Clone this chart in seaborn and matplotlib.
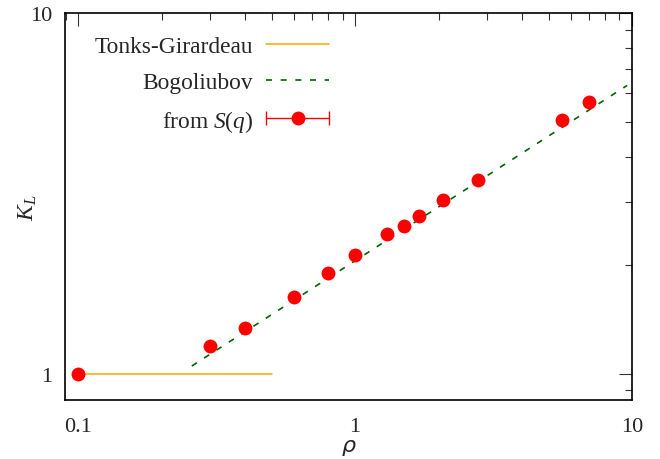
import numpy as np
import pandas as pd
import seaborn as sns
import matplotlib
matplotlib.use("Agg")
import matplotlib.pyplot as plt
from matplotlib.lines import Line2D
from matplotlib.legend_handler import HandlerLine2D, HandlerTuple
from matplotlib.ticker import LogLocator, NullFormatter

# ---- data ----
rho_sq = [0.1, 0.3, 0.4, 0.6, 0.8, 1.0, 1.3, 1.5, 1.7, 2.07, 2.78, 5.59, 7.0]
K_sq = [1.0, 1.196, 1.345, 1.634, 1.905, 2.136, 2.435, 2.57, 2.74, 3.03, 3.45, 5.05, 5.67]
K_err = [0.01, 0.02, 0.02, 0.03, 0.03, 0.04, 0.04, 0.05, 0.05, 0.07, 0.08, 0.21, 0.21]

rho_tg = [0.1, 0.5]
K_tg = [1.0, 1.0]

rho_bog = [0.257, 9.6]
K_bog = [1.052, 6.3]

xticks = [0.1, 1, 10]
xticklabels = ["0.1", "1", "10"]
yticks = [1, 10]
yticklabels = ["1", "10"]

# ---- style ----
sns.set_theme(style="white")
plt.rcParams["font.family"] = ["Liberation Serif", "DejaVu Serif"]
plt.rcParams["mathtext.fontset"] = "custom"
plt.rcParams["mathtext.rm"] = "Liberation Serif"
plt.rcParams["mathtext.it"] = "Liberation Serif:italic"
plt.rcParams["font.size"] = 16

ORANGE = "#ffa500"
GREEN = "#006400"
RED = "#ff0000"

fig = plt.figure(figsize=(6.6, 4.6), dpi=100)
ax = fig.add_axes([65 / 660, 1 - 401 / 460, (632 - 65) / 660, (401 - 14) / 460])

df_tg = pd.DataFrame({"rho": rho_tg, "K": K_tg})
df_bog = pd.DataFrame({"rho": rho_bog, "K": K_bog})

sns.lineplot(data=df_tg, x="rho", y="K", ax=ax, color=ORANGE, lw=1.1, zorder=2)
sns.lineplot(data=df_bog, x="rho", y="K", ax=ax, color=GREEN, lw=1.2,
             linestyle=(0, (3.6, 5.2)), zorder=2)
ax.errorbar(rho_sq, K_sq, yerr=K_err, fmt="o", color=RED, ms=10, mew=0,
            elinewidth=1.0, capsize=10, capthick=1.0, zorder=3)

ax.set_xscale("log")
ax.set_yscale("log")
ax.set_xlim(0.0895, 10)
ax.set_ylim(0.847, 10)

ax.set_xticks(xticks)
ax.set_xticklabels(xticklabels)
ax.set_yticks(yticks)
ax.set_yticklabels(yticklabels)
ax.xaxis.set_minor_locator(LogLocator(base=10, subs=range(2, 10)))
ax.yaxis.set_minor_locator(LogLocator(base=10, subs=range(2, 10)))
ax.xaxis.set_minor_formatter(NullFormatter())
ax.yaxis.set_minor_formatter(NullFormatter())

ax.tick_params(which="both", direction="in", top=True, right=True,
               color="#333333", width=0.8, labelsize=16)
ax.tick_params(which="major", length=9.4)
ax.tick_params(which="minor", length=5)
ax.tick_params(axis="x", which="major", pad=12.5)
ax.tick_params(axis="y", which="major", pad=9)

for s in ax.spines.values():
    s.set_color("black")
    s.set_linewidth(1.2)

ax.set_xlabel(r"$\rho$", math_fontfamily="dejavusans", fontsize=16, va="top")
ax.xaxis.set_label_coords(0.5, (401 - 438) / 387)
ax.set_ylabel("$K_L$", fontsize=17, labelpad=-6)

# ---- legend ----
h_tg = Line2D([], [], color=ORANGE, lw=1.1)
h_bog = Line2D([], [], color=GREEN, lw=1.2, linestyle=(0, (3.6, 5.2)))
h_cap = Line2D([], [], color=RED, lw=1.0, marker="|", ms=10, mew=1.0)
h_dot = Line2D([], [], color=RED, ls="none", marker="o", ms=10, mew=0)
leg = ax.legend([h_tg, h_bog, (h_cap, h_dot)],
                ["Tonks-Girardeau", "Bogoliubov", "from $S(q)$"],
                handler_map={h_cap: HandlerLine2D(numpoints=2, marker_pad=0),
                             h_dot: HandlerLine2D(numpoints=1),
                             tuple: HandlerTuple(ndivide=1)},
                loc="upper right", bbox_to_anchor=(329 / 660, 1 - 37 / 460),
                bbox_transform=fig.transFigure, frameon=False, markerfirst=False,
                handlelength=2.7, handletextpad=0.56, labelspacing=0.62,
                borderpad=0, borderaxespad=0, fontsize=16.8)

fig.savefig("out.png", dpi=100)
